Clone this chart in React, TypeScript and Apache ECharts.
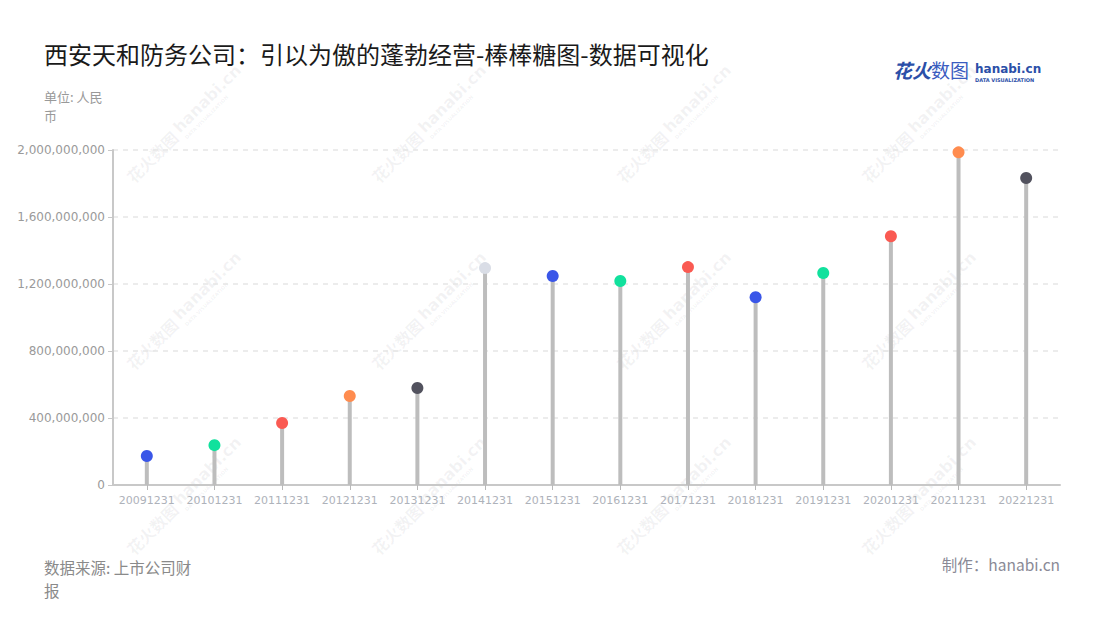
import React, { useEffect, useRef } from "react";
import * as echarts from "echarts";

const categories = [
  "20091231", "20101231", "20111231", "20121231", "20131231", "20141231", "20151231",
  "20161231", "20171231", "20181231", "20191231", "20201231", "20211231", "20221231",
];
const values = [
  173000000, 238000000, 370000000, 531000000, 579000000, 1295000000, 1248000000,
  1218000000, 1301000000, 1121000000, 1266000000, 1485000000, 1986000000, 1833000000,
];
const dotColors = [
  "#3a56e8", "#11e19d", "#fa5a52", "#ff8c4f", "#52525e", "#d9dde6", "#3a56e8",
  "#11e19d", "#fa5a52", "#3a56e8", "#11e19d", "#fa5a52", "#ff8c4f", "#52525e",
];
const yTicks = { min: 0, max: 2000000000, interval: 400000000 };

const titleText = "西安天和防务公司：引以为傲的蓬勃经营-棒棒糖图-数据可视化";
const unitText = "单位: 人民币";
const sourceText = "数据来源: 上市公司财报";
const makerText = "制作：hanabi.cn";

const CJK = '"Noto Sans CJK SC", "Noto Sans", sans-serif';

function watermark(x: number, y: number) {
  const c = "rgba(120,120,130,0.09)";
  return {
    type: "group",
    x,
    y,
    rotation: Math.PI / 4,
    silent: true,
    z: -10,
    children: [
      {
        type: "text",
        x: 0,
        y: 0,
        style: {
          text: "花火数图",
          fill: c,
          font: `bold 16px ${CJK}`,
          textVerticalAlign: "bottom",
        },
      },
      {
        type: "text",
        x: 68,
        y: -2,
        style: {
          text: "hanabi.cn",
          fill: c,
          font: `bold 16px "DejaVu Sans", sans-serif`,
          textVerticalAlign: "bottom",
        },
      },
      {
        type: "text",
        x: 69,
        y: 5,
        style: {
          text: "DATA VISUALIZATION",
          fill: c,
          font: `bold 5px "DejaVu Sans", sans-serif`,
          textVerticalAlign: "bottom",
        },
      },
    ],
  };
}

export default function App() {
  const ref = useRef<HTMLDivElement>(null);
  useEffect(() => {
    if (!ref.current) return;
    const chart = echarts.init(ref.current, undefined, { renderer: "svg" });
    const wmCols = [135, 380, 625, 870];
    const wmRows = [185, 372, 557];
    const marks: any[] = [];
    wmCols.forEach((cx) => wmRows.forEach((cy) => marks.push(watermark(cx, cy))));

    chart.setOption({
      animation: false,
      backgroundColor: "#ffffff",
      grid: { left: 113, right: 40, top: 150, bottom: 135, containLabel: false },
      xAxis: {
        type: "category",
        data: categories,
        boundaryGap: true,
        axisLine: { show: true, lineStyle: { color: "#c8c8c8", width: 2 } },
        axisTick: { show: true, alignWithLabel: true, length: 5, lineStyle: { color: "#b8b8b8" } },
        axisLabel: {
          color: "#aeb2ba",
          fontSize: 11,
          margin: 10,
          fontFamily: '"DejaVu Sans", sans-serif',
          interval: 0,
        },
        splitLine: { show: false },
      },
      yAxis: {
        type: "value",
        min: yTicks.min,
        max: yTicks.max,
        interval: yTicks.interval,
        axisLine: { show: true, lineStyle: { color: "#c8c8c8", width: 2 } },
        axisTick: { show: true, length: 5, lineStyle: { color: "#c8c8c8" } },
        axisLabel: {
          color: "#9a9a9a",
          fontSize: 12,
          margin: 8,
          fontFamily: '"DejaVu Sans", sans-serif',
          formatter: (v: number) => v.toLocaleString("en-US"),
        },
        splitLine: { show: true, lineStyle: { color: "#e6e6e6", type: [5, 5], width: 1.5 } },
      },
      series: [
        {
          type: "bar",
          data: values,
          barWidth: 4,
          itemStyle: { color: "#bdbdbd" },
          z: 2,
        },
        {
          type: "scatter",
          data: values.map((v, i) => ({
            value: v,
            itemStyle: { color: dotColors[i], opacity: 1 },
          })),
          symbol: "circle",
          symbolSize: 12,
          itemStyle: { opacity: 1 },
          z: 3,
        },
      ],
      graphic: [
        ...marks,
        {
          type: "text",
          left: 44,
          top: 41,
          style: { text: titleText, fill: "#1a1a1a", font: `24px ${CJK}` },
        },
        {
          type: "text",
          left: 44,
          top: 87,
          style: {
            text: unitText,
            fill: "#999999",
            font: `13px ${CJK}`,
            width: 68,
            overflow: "break",
            lineHeight: 19,
          },
        },
        {
          type: "text",
          left: 44,
          top: 555,
          style: {
            text: sourceText,
            fill: "#8a8a8a",
            font: `15.5px ${CJK}`,
            width: 152,
            overflow: "break",
            lineHeight: 23,
          },
        },
        {
          type: "text",
          right: 40,
          top: 556,
          style: { text: makerText, fill: "#8a8a96", font: `15.5px ${CJK}` },
        },
        {
          type: "group",
          left: 893,
          top: 60,
          children: [
            {
              type: "text",
              x: 0,
              y: 0,
              style: { text: "花火", fill: "#2b4fa8", font: `bold italic 19px ${CJK}` },
            },
            {
              type: "text",
              x: 38,
              y: 0,
              style: { text: "数图", fill: "#3a5cc0", font: `19px ${CJK}` },
            },
            {
              type: "text",
              x: 82,
              y: 3,
              style: {
                text: "hanabi.cn",
                fill: "#2b4fa8",
                font: `bold 12px "DejaVu Sans", sans-serif`,
              },
            },
            {
              type: "text",
              x: 82,
              y: 17,
              style: {
                text: "DATA VISUALIZATION",
                fill: "#2b4fa8",
                font: `bold 5px "DejaVu Sans", sans-serif`,
              },
            },
          ],
        },
      ],
    });
    return () => chart.dispose();
  }, []);
  return <div ref={ref} style={{ width: 1100, height: 620, margin: -8 }} />;
}
